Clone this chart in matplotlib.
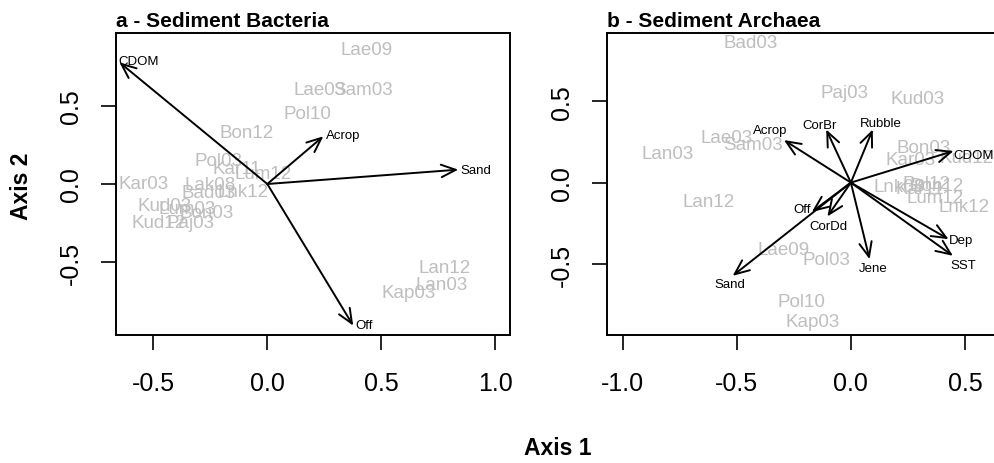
import numpy as np
import matplotlib
matplotlib.use('Agg')
import matplotlib.pyplot as plt

plt.rcParams['font.family'] = ['Liberation Sans', 'DejaVu Sans']

# panel a - sediment bacteria
a_sites = ['Lae09', 'Lae03', 'Sam03', 'Pol10', 'Bon12', 'Pol03', 'Kar11', 'Lum12',
           'Kar03', 'Lak08', 'Bad03', 'Lnk12', 'Kud03', 'Lum03', 'Bon03', 'Kud12',
           'Paj03', 'Lan12', 'Lan03', 'Kap03']
a_site_x = [0.436, 0.231, 0.421, 0.175, -0.090, -0.215, -0.134, -0.018,
            -0.544, -0.251, -0.258, -0.105, -0.449, -0.354, -0.266, -0.478,
            -0.339, 0.779, 0.765, 0.619]
a_site_y = [0.861, 0.609, 0.609, 0.449, 0.327, 0.149, 0.100, 0.070,
            0.006, 0.000, -0.053, -0.047, -0.135, -0.160, -0.180, -0.246,
            -0.246, -0.534, -0.647, -0.694]
a_vars = ['CDOM', 'Acrop', 'Sand', 'Off']
a_arrow_x = [-0.649, 0.246, 0.838, 0.377]
a_arrow_y = [0.780, 0.306, 0.092, -0.908]
a_lab_x = [-0.566, 0.335, 0.913, 0.426]
a_lab_y = [0.790, 0.314, 0.092, -0.902]

# panel b - sediment archaea
b_sites = ['Bad03', 'Paj03', 'Kud03', 'Lae03', 'Sam03', 'Lan03', 'Bon03', 'Kar03',
           'Kud12', 'Lnk03', 'Pol12', 'Bon12', 'Kar11', 'Lum12', 'Lnk12', 'Lan12',
           'Lae09', 'Pol03', 'Pol10', 'Kap03']
b_site_x = [-0.439, -0.029, 0.292, -0.544, -0.427, -0.804, 0.319, 0.260,
            0.509, 0.209, 0.333, 0.377, 0.304, 0.370, 0.494, -0.625,
            -0.296, -0.105, -0.215, -0.167]
b_site_y = [0.857, 0.555, 0.516, 0.276, 0.235, 0.179, 0.214, 0.143,
            0.153, -0.024, -0.004, -0.020, -0.037, -0.092, -0.147, -0.113,
            -0.408, -0.470, -0.731, -0.854]
b_vars = ['Acrop', 'CorBr', 'Rubble', 'CDOM', 'Off', 'CorDd', 'Jene', 'Dep', 'SST', 'Sand']
b_arrow_x = [-0.293, -0.108, 0.096, 0.450, -0.171, -0.103, 0.082, 0.428, 0.447, -0.518]
b_arrow_y = [0.261, 0.326, 0.326, 0.194, -0.180, -0.208, -0.470, -0.347, -0.449, -0.572]
b_lab_x = [-0.354, -0.138, 0.132, 0.538, -0.215, -0.098, 0.096, 0.484, 0.494, -0.532]
b_lab_y = [0.322, 0.353, 0.363, 0.167, -0.159, -0.266, -0.525, -0.353, -0.505, -0.623]

W, H = 994, 464
fig = plt.figure(figsize=(W / 100, H / 100), dpi=100)

ax1 = fig.add_axes([116 / W, 1 - 336 / H, 394 / W, 302 / H])
ax2 = fig.add_axes([607.3 / W, 1 - 336 / H, 394 / W, 302 / H])


def draw_panel(ax, title, sites, sx, sy, vars_, vx, vy, lx, ly, xlim, ylim, xticks):
    for name, x, y in zip(sites, sx, sy):
        ax.text(x, y, name, color='#bebebe', fontsize=13.5, ha='center', va='center')
    for x, y in zip(vx, vy):
        ax.annotate('', xy=(x, y), xytext=(0, 0),
                    arrowprops=dict(arrowstyle='->,head_length=1.05,head_width=0.45',
                                    mutation_scale=10, lw=1.4, color='black',
                                    shrinkA=0, shrinkB=0))
    for name, x, y in zip(vars_, lx, ly):
        ax.text(x, y, name, color='black', fontsize=9.5, ha='center', va='center')
    ax.set_xlim(xlim)
    ax.set_ylim(ylim)
    ax.set_xticks(xticks)
    ax.set_xticklabels(['%.1f' % t for t in xticks])
    ax.set_yticks([-0.5, 0.0, 0.5])
    ax.set_yticklabels(['-0.5', '0.0', '0.5'], rotation=90, va='center')
    ax.tick_params(length=10.8, width=1.2, labelsize=18, direction='out')
    ax.tick_params(axis='x', pad=15)
    ax.tick_params(axis='y', pad=13)
    for s in ax.spines.values():
        s.set_linewidth(1.4)
    ax.set_title(title, loc='left', fontsize=15, fontweight='bold', pad=5)


draw_panel(ax1, 'a - Sediment Bacteria', a_sites, a_site_x, a_site_y,
           a_vars, a_arrow_x, a_arrow_y, a_lab_x, a_lab_y,
           (-0.664, 1.065), (-0.968, 0.968), [-0.5, 0.0, 0.5, 1.0])
draw_panel(ax2, 'b - Sediment Archaea', b_sites, b_site_x, b_site_y,
           b_vars, b_arrow_x, b_arrow_y, b_lab_x, b_lab_y,
           (-1.067, 0.659), (-0.935, 0.918), [-1.0, -0.5, 0.0, 0.5])

fig.text(558 / W, 1 - 449 / H, 'Axis 1', fontsize=16.5, fontweight='bold',
         ha='center', va='center')
fig.text(22 / W, 1 - 186 / H, 'Axis 2', fontsize=16.5, fontweight='bold',
         ha='center', va='center', rotation=90)

fig.savefig('out.png', dpi=100)
